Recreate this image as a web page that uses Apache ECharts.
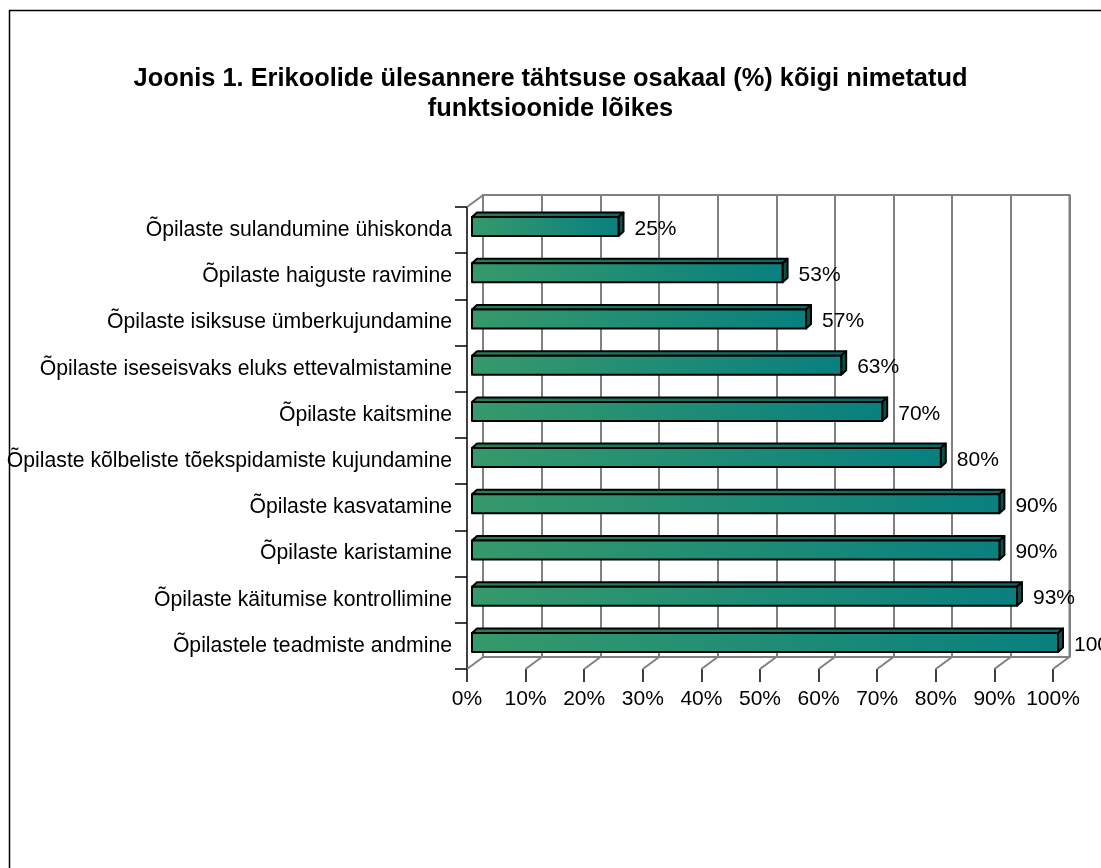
<!DOCTYPE html>
<html>
<head>
    <meta charset="utf-8">
    <title>Joonis 1</title>
    <script src="https://cdn.jsdelivr.net/npm/echarts@6/dist/echarts.min.js"></script>
</head>
<body style="margin:0">
<style type="text/css">
#joonis {width: 1101px; height: 868px; background: #fff;}
</style>
    <div id="joonis"></div>
    <script type="text/javascript">
        // andmed (ülevalt alla)
        var kategooriad = [
            'Õpilaste sulandumine ühiskonda',
            'Õpilaste haiguste ravimine',
            'Õpilaste isiksuse ümberkujundamine',
            'Õpilaste iseseisvaks eluks ettevalmistamine',
            'Õpilaste kaitsmine',
            'Õpilaste kõlbeliste tõekspidamiste kujundamine',
            'Õpilaste kasvatamine',
            'Õpilaste karistamine',
            'Õpilaste käitumise kontrollimine',
            'Õpilastele teadmiste andmine'
        ];
        var osakaal = [25, 53, 57, 63, 70, 80, 90, 90, 93, 100];
        var xTicks = [0, 10, 20, 30, 40, 50, 60, 70, 80, 90, 100];

        var font = 'Liberation Sans, Arial, sans-serif';
        var sygavusX = 16.3, sygavusY = -12;   // 3D seina nihe

        var chart = echarts.init(document.getElementById('joonis'));

        function tulp(params, api) {
            var v = api.value(0), c = api.value(1);
            var p0 = api.coord([0, c]);
            var p1 = api.coord([v, c]);
            var x0 = p0[0] + 5, x1 = p1[0] + 5, yc = p0[1] - 3.5;
            var h = 19, dx = 5, dy = -4.5;
            var ylal = yc - h / 2, yall = yc + h / 2;
            var esi = new echarts.graphic.LinearGradient(0, 0, 1, 0, [
                {offset: 0, color: '#36996b'}, {offset: 1, color: '#08807f'}
            ]);
            var pealt = new echarts.graphic.LinearGradient(0, 0, 1, 0, [
                {offset: 0, color: '#2b7d57'}, {offset: 1, color: '#066866'}
            ]);
            var joon = {stroke: '#000', lineWidth: 2, lineJoin: 'round'};
            return {
                type: 'group',
                children: [
                    {type: 'polygon', shape: {points: [[x0, ylal], [x0 + dx, ylal + dy], [x1 + dx, ylal + dy], [x1, ylal]]},
                        style: echarts.util.extend({fill: pealt}, joon)},
                    {type: 'polygon', shape: {points: [[x1, ylal], [x1 + dx, ylal + dy], [x1 + dx, yall + dy], [x1, yall]]},
                        style: echarts.util.extend({fill: '#0c5046'}, joon)},
                    {type: 'rect', shape: {x: x0, y: ylal, width: x1 - x0, height: h},
                        style: echarts.util.extend({fill: esi}, joon)},
                    {type: 'text', x: x1 + dx + 11, y: p0[1] - 1,
                        style: {text: v + '%', fill: '#000', font: '21px ' + font, verticalAlign: 'middle', align: 'left'}}
                ]
            };
        }

        function pohi(params, api) {
            var v = api.value(0), c = api.value(1);
            var p = api.coord([v, c]);
            var riba = api.size([0, 1])[1];
            var y = p[1] + riba / 2;
            return {type: 'line', shape: {x1: p[0], y1: y, x2: p[0] + sygavusX, y2: y + sygavusY},
                style: {stroke: '#808080', lineWidth: 2}};
        }

        function nurk(params, api) {
            var p = api.coord([api.value(0), api.value(1)]);
            var riba = api.size([0, 1])[1];
            var y = p[1] - riba / 2;
            return {type: 'line', shape: {x1: p[0], y1: y, x2: p[0] + sygavusX, y2: y + sygavusY},
                style: {stroke: '#808080', lineWidth: 2}};
        }

        var tulbad = [];
        for (var i = 0; i < osakaal.length; i++) {
            tulbad.push([osakaal[i], i]);
        }
        var pohjad = [];
        for (var j = 0; j < xTicks.length; j++) {
            pohjad.push([xTicks[j], kategooriad.length - 1]);
        }

        chart.setOption({
            animation: false,
            backgroundColor: '#fff',
            title: {
                text: 'Joonis 1. Erikoolide ülesannere tähtsuse osakaal (%) kõigi nimetatud\nfunktsioonide lõikes',
                left: 'center',
                top: 59,
                textStyle: {fontFamily: font, fontWeight: 'bold', fontSize: 25.4, lineHeight: 30, color: '#000'}
            },
            graphic: [{
                type: 'rect', z: -10,
                shape: {x: 9.5, y: 10.5, width: 1200, height: 1000},
                style: {fill: 'none', stroke: '#000', lineWidth: 1.5}
            }],
            grid: [
                {left: 467, right: 48, top: 207, bottom: 199, outerBoundsMode: 'none'},
                {left: 483, right: 31.5, top: 195, bottom: 211, show: true, borderColor: '#808080',
                    borderWidth: 2, backgroundColor: 'transparent', z: 0, outerBoundsMode: 'none'}
            ],
            xAxis: [{
                gridIndex: 0, type: 'value', min: 0, max: 100, interval: 10,
                axisLine: {show: false},
                axisTick: {show: true, length: 13, lineStyle: {color: '#000', width: 1.5}},
                splitLine: {show: false},
                axisLabel: {formatter: '{value}%', color: '#000', fontFamily: font, fontSize: 21, margin: 20}
            }, {
                gridIndex: 1, type: 'value', min: 0, max: 100, interval: 10,
                axisLine: {show: false}, axisTick: {show: false}, axisLabel: {show: false},
                splitLine: {show: true, lineStyle: {color: '#808080', width: 2}}
            }],
            yAxis: [{
                gridIndex: 0, type: 'category', data: kategooriad, inverse: true,
                axisLine: {show: true, lineStyle: {color: '#000', width: 1.5}},
                axisTick: {show: true, length: 12, lineStyle: {color: '#000', width: 1.5}},
                axisLabel: {color: '#000', fontFamily: font, fontSize: 21.2, margin: 15},
                splitLine: {show: false}
            }, {
                gridIndex: 1, type: 'category', data: kategooriad, inverse: true, show: false
            }],
            series: [{
                type: 'custom', name: 'põrand', xAxisIndex: 0, yAxisIndex: 0, z: 1,
                renderItem: pohi, data: pohjad, silent: true
            }, {
                type: 'custom', name: 'nurk', xAxisIndex: 0, yAxisIndex: 0, z: 1,
                renderItem: nurk, data: [[0, 0]], silent: true
            }, {
                type: 'custom', name: 'osakaal', xAxisIndex: 0, yAxisIndex: 0, z: 5,
                renderItem: tulp, data: tulbad, clip: false
            }]
        });
    </script>
</body>
</html>
